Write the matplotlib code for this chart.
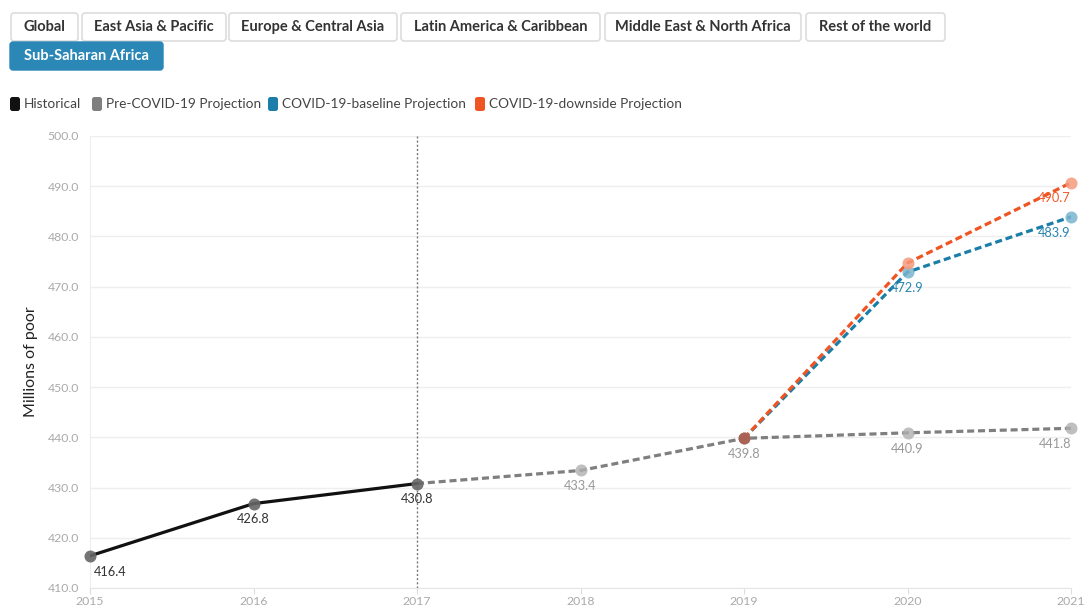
import matplotlib
matplotlib.use("Agg")
import matplotlib.pyplot as plt
from matplotlib.patches import FancyBboxPatch

plt.rcParams['font.family'] = ['Lato', 'DejaVu Sans']

# ---- data ----
years_hist = [2015, 2016, 2017]
vals_hist = [416.4, 426.8, 430.8]
years_pre = [2017, 2018, 2019, 2020, 2021]
vals_pre = [430.8, 433.4, 439.8, 440.9, 441.8]
years_cov = [2019, 2020, 2021]
vals_base = [439.8, 472.9, 483.9]
vals_down = [439.8, 474.7, 490.7]
yticks = [410, 420, 430, 440, 450, 460, 470, 480, 490, 500]
xticks = [2015, 2016, 2017, 2018, 2019, 2020, 2021]
buttons_row1 = ["Global", "East Asia & Pacific", "Europe & Central Asia",
                "Latin America & Caribbean", "Middle East & North Africa",
                "Rest of the world"]
button_active = "Sub-Saharan Africa"
legend_items = ["Historical", "Pre-COVID-19 Projection",
                "COVID-19-baseline Projection", "COVID-19-downside Projection"]

C_HIST = "#111111"
C_PRE = "#7f7f7f"
C_BASE = "#1b7ea8"
C_DOWN = "#f05423"

W, H = 1085, 610
fig = plt.figure(figsize=(W / 100, H / 100), dpi=100)

# overlay axes in pixel coords for UI elements
ui = fig.add_axes([0, 0, 1, 1])
ui.set_xlim(0, W)
ui.set_ylim(H, 0)
ui.axis("off")

btn_x = [(11, 78), (82, 226), (229, 397), (401, 600), (605, 801), (806, 945)]
for (x0, x1), lab in zip(btn_x, buttons_row1):
    ui.add_patch(FancyBboxPatch((x0, 13), x1 - x0, 28,
                                boxstyle="round,pad=0,rounding_size=3",
                                fc="white", ec="#dddddd", lw=1.2))
    ui.text((x0 + x1) / 2, 27, lab, ha="center", va="center",
            fontsize=10.5, fontweight="bold", color="#333333")
ui.add_patch(FancyBboxPatch((10, 42), 153, 28,
                            boxstyle="round,pad=0,rounding_size=3",
                            fc="#2a87b6", ec="#2a87b6", lw=1))
ui.text(86.5, 56, button_active, ha="center", va="center",
        fontsize=10.5, fontweight="bold", color="white")

leg_x = [10, 92, 268, 475]
leg_c = [C_HIST, C_PRE, C_BASE, C_DOWN]
for x, lab, c in zip(leg_x, legend_items, leg_c):
    ui.add_patch(FancyBboxPatch((x, 97), 10, 14,
                                boxstyle="round,pad=0,rounding_size=2.5",
                                fc=c, ec=c, lw=0))
    ui.text(x + 14, 104.5, lab, ha="left", va="center",
            fontsize=9.8, color="#444444")

# ---- main plot ----
ax = fig.add_axes([90 / W, 1 - 588 / H, (1071 - 90) / W, (588 - 136) / H])
ax.set_xlim(2015, 2021)
ax.set_ylim(410, 500)
ax.set_yticks(yticks)
ax.set_yticklabels([f"{v:.1f}" for v in yticks])
ax.set_xticks(xticks)
ax.set_xticklabels([str(v) for v in xticks])
ax.tick_params(axis="y", length=0, pad=8, labelsize=8.8, labelcolor="#aaaaaa")
ax.tick_params(axis="x", length=4, color="#dddddd", pad=2, labelsize=8.8,
               labelcolor="#aaaaaa")
ax.grid(axis="y", color="#eeeeee", lw=1)
ax.set_axisbelow(True)
for s in ["top", "right"]:
    ax.spines[s].set_visible(False)
ax.spines["left"].set_color("#eeeeee")
ax.spines["bottom"].set_color("#e6e6e6")
ax.set_ylabel("Millions of poor", fontsize=11.5, color="#222222", labelpad=7)

ax.axvline(2017, color="#777777", lw=1, ls=(0, (1.5, 1.5)), zorder=1)

ax.plot(years_pre, vals_pre, color=C_PRE, lw=2.3, ls=(0, (2.2, 1.2)), zorder=2)
ax.plot(years_cov, vals_base, color=C_BASE, lw=2.3, ls=(0, (2.2, 1.2)), zorder=3)
ax.plot(years_cov, vals_down, color=C_DOWN, lw=2.3, ls=(0, (2.2, 1.2)), zorder=3)
ax.plot(years_hist, vals_hist, color=C_HIST, lw=2.3, zorder=4)

ax.scatter(years_pre[1:], vals_pre[1:], s=75, color="#b0b0b0", alpha=0.8,
           zorder=5, clip_on=False, lw=0)
ax.scatter(years_cov[1:], vals_base[1:], s=75, color="#79b4cf", alpha=0.85,
           zorder=5, clip_on=False, lw=0)
ax.scatter(years_cov[1:], vals_down[1:], s=75, color="#f59a7c", alpha=0.85,
           zorder=5, clip_on=False, lw=0)
ax.scatter([years_cov[0]], [vals_down[0]], s=75, color="#a85a4c", alpha=0.9,
           zorder=5, clip_on=False, lw=0)
ax.scatter(years_hist, vals_hist, s=75, color="#666666", alpha=0.9,
           zorder=5, clip_on=False, lw=0)

def lab(x, y, txt, color, ha="center", dx=0):
    ax.annotate(txt, (x, y), xytext=(dx, -7), textcoords="offset points",
                ha=ha, va="top", fontsize=9.2, color=color, zorder=6,
                annotation_clip=False)

lab(2015, vals_hist[0], f"{vals_hist[0]:.1f}", "#333333", ha="left", dx=3)
lab(2016, vals_hist[1], f"{vals_hist[1]:.1f}", "#333333")
lab(2017, vals_hist[2], f"{vals_hist[2]:.1f}", "#333333")
for x, v in zip(years_pre[1:], vals_pre[1:]):
    lab(x, v, f"{v:.1f}", "#999999", ha="right" if x == 2021 else "center")
lab(2020, vals_base[1], f"{vals_base[1]:.1f}", "#2a86b0")
lab(2021, vals_base[2], f"{vals_base[2]:.1f}", "#2a86b0", ha="right")
lab(2021, vals_down[2], f"{vals_down[2]:.1f}", "#f05a2a", ha="right")

fig.savefig("out.png", dpi=100)
